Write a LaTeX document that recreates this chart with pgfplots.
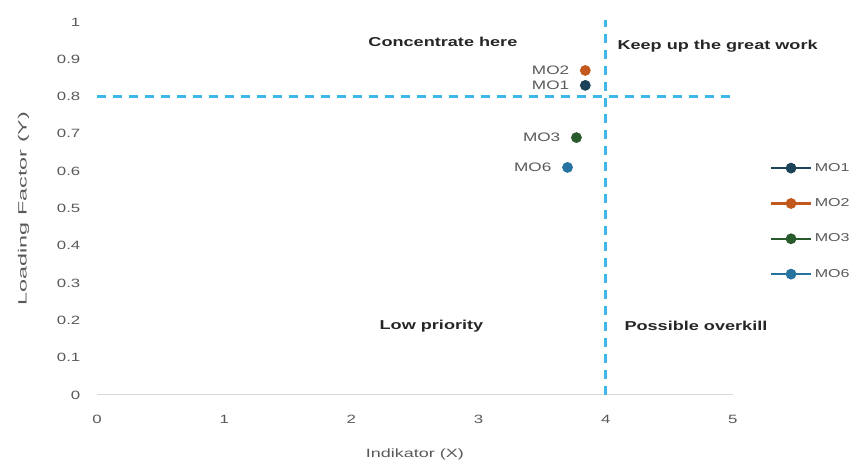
\documentclass[border=0pt]{standalone}
\usepackage{fontspec}
\setmainfont[FakeStretch=1.4]{Liberation Sans}
\newfontfamily\xlabfont[FakeStretch=1.5]{Liberation Sans}
\newfontfamily\ylabfont[FakeStretch=1.95]{Liberation Sans}
\usepackage{pgfplots}
\pgfplotsset{compat=1.18}

\definecolor{txtgray}{HTML}{595959}
\definecolor{axisgray}{HTML}{D9D9D9}
\definecolor{quadline}{HTML}{3DB8E8}
\definecolor{cMOa}{HTML}{1C4258}
\definecolor{cMOb}{HTML}{C2581C}
\definecolor{cMOc}{HTML}{285A2C}
\definecolor{cMOf}{HTML}{2773A0}

\begin{document}
\begin{tikzpicture}
\begin{axis}[
  scale only axis,
  width=477pt, height=279.75pt,
  xmin=0, xmax=5, ymin=0, ymax=1,
  clip=false,
  axis lines*=left,
  x axis line style={-, draw=axisgray, line width=0.8pt},
  y axis line style={draw=none},
  tick style={draw=none},
  xtick={0,1,2,3,4,5},
  xticklabels={0,1,2,3,4,5},
  ytick={0,0.1,0.2,0.3,0.4,0.5,0.6,0.7,0.8,0.9,1},
  yticklabels={0,0.1,0.2,0.3,0.4,0.5,0.6,0.7,0.8,0.9,1},
  /pgf/number format/assume math mode=true,
  ticklabel style={font=\fontsize{9}{10}\selectfont, text=txtgray},
  xticklabel style={yshift=-12pt},
  yticklabel style={xshift=-9pt},
  xlabel={Indikator (X)},
  ylabel={Loading Factor (Y)},
  xlabel style={font=\xlabfont\fontsize{9}{11}\selectfont, text=txtgray, yshift=-12pt},
  ylabel style={font=\ylabfont\fontsize{9}{11}\selectfont, text=txtgray, yshift=14pt},
  legend style={at={(1.058,0.466)}, anchor=west, draw=none, fill=none,
    font=\fontsize{8.6}{10}\selectfont, text=txtgray,
    row sep=15pt, inner sep=0pt},
  legend cell align=left,
  legend image code/.code={\draw[mark repeat=2, mark phase=2, #1]
    plot coordinates {(0pt,0pt) (15pt,0pt) (30pt,0pt)};},
  every axis plot/.append style={line width=1.6pt, mark=*, mark size=3.2pt},
  nodes near coords,
  point meta=explicit symbolic,
  every node near coord/.style={anchor=east, xshift=-8pt, yshift=0pt,
    font=\fontsize{9.2}{10}\selectfont, text=txtgray},
]
% quadrant divider lines
\addplot[quadline, line width=2pt, dash pattern=on 7pt off 5pt, mark=none,
  forget plot, nodes near coords={}] coordinates {(0,0.8) (5,0.8)};
\addplot[quadline, line width=2pt, dash pattern=on 7pt off 5pt, mark=none,
  forget plot, nodes near coords={}] coordinates {(4,0) (4,1.005)};

% indicator positions
\addplot[cMOa, mark options={fill=cMOa}] coordinates {(3.84,0.83) [MO1]};
\addlegendentry{MO1}
\addplot[cMOb, mark options={fill=cMOb}] coordinates {(3.84,0.87) [MO2]};
\addlegendentry{MO2}
\addplot[cMOc, mark options={fill=cMOc}] coordinates {(3.77,0.69) [MO3]};
\addlegendentry{MO3}
\addplot[cMOf, mark options={fill=cMOf}] coordinates {(3.70,0.61) [MO6]};
\addlegendentry{MO6}

% quadrant captions
\begin{scope}[every node/.style={font=\bfseries\fontsize{9.7}{11}\selectfont, text=black!85}]
\node at (axis cs:2.72,0.946) {Concentrate here};
\node at (axis cs:4.88,0.936) {Keep up the great work};
\node at (axis cs:2.63,0.185) {Low priority};
\node at (axis cs:4.71,0.185) {Possible overkill};
\end{scope}

\coordinate (bbl) at (axis cs:-0.763,-0.19);
\coordinate (btr) at (axis cs:6.0,1.059);
\end{axis}
\pgfresetboundingbox
\path[use as bounding box] (bbl) rectangle (btr);
\end{tikzpicture}
\end{document}
